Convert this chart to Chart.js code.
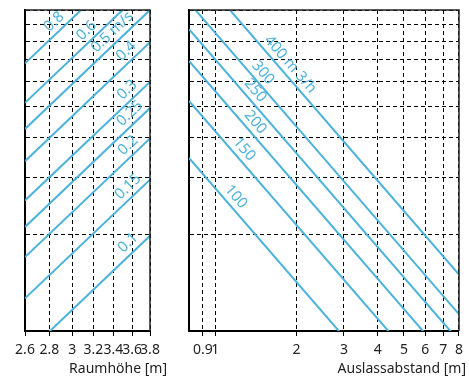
<!DOCTYPE html>
<html><head><meta charset="utf-8">
<script src="https://cdn.jsdelivr.net/npm/chart.js@4.4.0/dist/chart.umd.min.js"></script>
<style>
html,body{margin:0;padding:0;background:#fff;}
#wrap{position:relative;width:469px;height:380px;}
canvas{position:absolute;left:0;top:0;}
</style></head><body>
<div id="wrap"><canvas id="c1" width="469" height="380"></canvas><canvas id="c2" width="469" height="380"></canvas></div>
<script>
// ---------- data ----------
const yGridValues = [1, 2, 3, 4, 5, 6, 7, 8, 9, 10];

// left panel: Raumhöhe
const heightTicks = [2.6, 2.8, 3, 3.2, 3.4, 3.6, 3.8];
const heightTickLabels = ['2.6', '2.8', '3', '3.2', '3.4', '3.6', '3.8'];
const velocityLabels = ['0.8', '0.6', '0.5 m/s', '0.4', '0.3', '0.25', '0.2', '0.15', '0.1'];
const velocityX = [2.6, 3.8];
const velocityYStart = [6.82, 5.14, 4.26, 3.38, 2.55, 2.11, 1.70, 1.264, 0.843];
const velocityYEnd = [16.0, 12.05, 10.0, 7.94, 5.97, 4.95, 3.98, 2.96, 1.98];
const velocityLabelX = [2.9, 3.2, 3.46, 3.61, 3.62, 3.65, 3.63, 3.63, 3.63];

// right panel: Auslassabstand
const distTicks = [0.9, 1, 2, 3, 4, 5, 6, 7, 8];
const distTickLabels = ['0.9', '1', '2', '3', '4', '5', '6', '7', '8'];
const flowLabels = ['400 m 3/h', '300', '250', '200', '150', '100'];
const flowX = [0.8, 8];
const flowYStart = [14.03, 10.55, 8.71, 6.94, 5.21, 3.46];
const flowYEnd = [1.50, 1.128, 0.931, 0.742, 0.557, 0.370];
const flowLabelX = [1.78, 1.41, 1.32, 1.32, 1.20, 1.118];

// ---------- style ----------
const BLUE = 'rgb(76,178,219)';
const FONT = '"Noto Sans", "DejaVu Sans", sans-serif';

function makeDatasets(xs, ys0, ys1) {
  return ys0.map((v, i) => ({
    data: [{x: xs[0], y: v}, {x: xs[1], y: ys1[i]}],
    borderColor: BLUE, borderWidth: 2, pointRadius: 0, tension: 0, fill: false
  }));
}

function labelPlugin(texts, labelXs) {
  return {
    id: 'lineLabels',
    afterDatasetsDraw(chart) {
      const {ctx, scales: {x, y}} = chart;
      ctx.save();
      ctx.font = '15px ' + FONT;
      ctx.fillStyle = BLUE;
      ctx.textAlign = 'center';
      ctx.textBaseline = 'middle';
      texts.forEach((t, i) => {
        const d = chart.data.datasets[i].data;
        const x1 = x.getPixelForValue(d[0].x), y1 = y.getPixelForValue(d[0].y);
        const x2 = x.getPixelForValue(d[1].x), y2 = y.getPixelForValue(d[1].y);
        const a = Math.atan2(y2 - y1, x2 - x1);
        const px = x.getPixelForValue(labelXs[i]);
        const py = y1 + (px - x1) * (y2 - y1) / (x2 - x1);
        const off = 10;
        ctx.save();
        ctx.translate(px + Math.sin(a) * off, py - Math.cos(a) * off);
        ctx.rotate(a);
        ctx.fillText(t, 0, 0);
        ctx.restore();
      });
      ctx.restore();
    }
  };
}

function framePlugin(title, titleRight) {
  return {
    id: 'frame',
    afterDraw(chart) {
      const {ctx, chartArea: ca} = chart;
      ctx.save();
      ctx.strokeStyle = '#222';
      ctx.lineWidth = 1.5;
      ctx.beginPath();
      ctx.moveTo(ca.left, ca.top);
      ctx.lineTo(ca.right, ca.top);
      ctx.lineTo(ca.right, ca.bottom);
      ctx.stroke();
      ctx.fillStyle = '#222';
      ctx.font = '14px ' + FONT;
      ctx.textAlign = 'right';
      ctx.textBaseline = 'alphabetic';
      ctx.fillText(title, titleRight, 373);
      ctx.restore();
    }
  };
}

function scalesFor(xMin, xMax, ticks, tickLabels) {
  return {
    x: {
      type: 'logarithmic', min: xMin, max: xMax,
      afterBuildTicks: s => { s.ticks = ticks.map(v => ({value: v})); },
      afterFit: s => { s.height = 49; },
      ticks: {autoSkip: false, maxRotation: 0, minRotation: 0, padding: 6,
        color: '#222', font: {family: FONT, size: 14},
        callback: (v, i) => tickLabels[i]},
      grid: {color: '#000', lineWidth: 1, tickLength: 5, tickColor: '#000', tickBorderDash: []},
      border: {display: true, color: '#000', width: 2, dash: [4, 3]}
    },
    y: {
      type: 'logarithmic', min: 1, max: 10,
      afterBuildTicks: s => { s.ticks = yGridValues.map(v => ({value: v})); },
      afterFit: s => { s.width = 0; },
      ticks: {display: false},
      grid: {color: '#000', lineWidth: 1, drawTicks: false},
      border: {display: true, color: '#000', width: 2, dash: [4, 3]}
    }
  };
}

const common = {
  responsive: false, animation: false, events: [],
  plugins: {legend: {display: false}, tooltip: {enabled: false}}
};

new Chart(document.getElementById('c1'), {
  type: 'line',
  data: {datasets: makeDatasets(velocityX, velocityYStart, velocityYEnd)},
  options: Object.assign({}, common, {
    layout: {padding: {left: 25, right: 319, top: 10, bottom: 0}},
    scales: scalesFor(2.6, 3.8, heightTicks, heightTickLabels)
  }),
  plugins: [labelPlugin(velocityLabels, velocityLabelX), framePlugin('Raumhöhe [m]', 167)]
});

new Chart(document.getElementById('c2'), {
  type: 'line',
  data: {datasets: makeDatasets(flowX, flowYStart, flowYEnd)},
  options: Object.assign({}, common, {
    layout: {padding: {left: 189, right: 6.5, top: 10, bottom: 0}},
    scales: scalesFor(0.8, 8, distTicks, distTickLabels)
  }),
  plugins: [labelPlugin(flowLabels, flowLabelX), framePlugin('Auslassabstand [m]', 466)]
});
</script>
</body></html>
